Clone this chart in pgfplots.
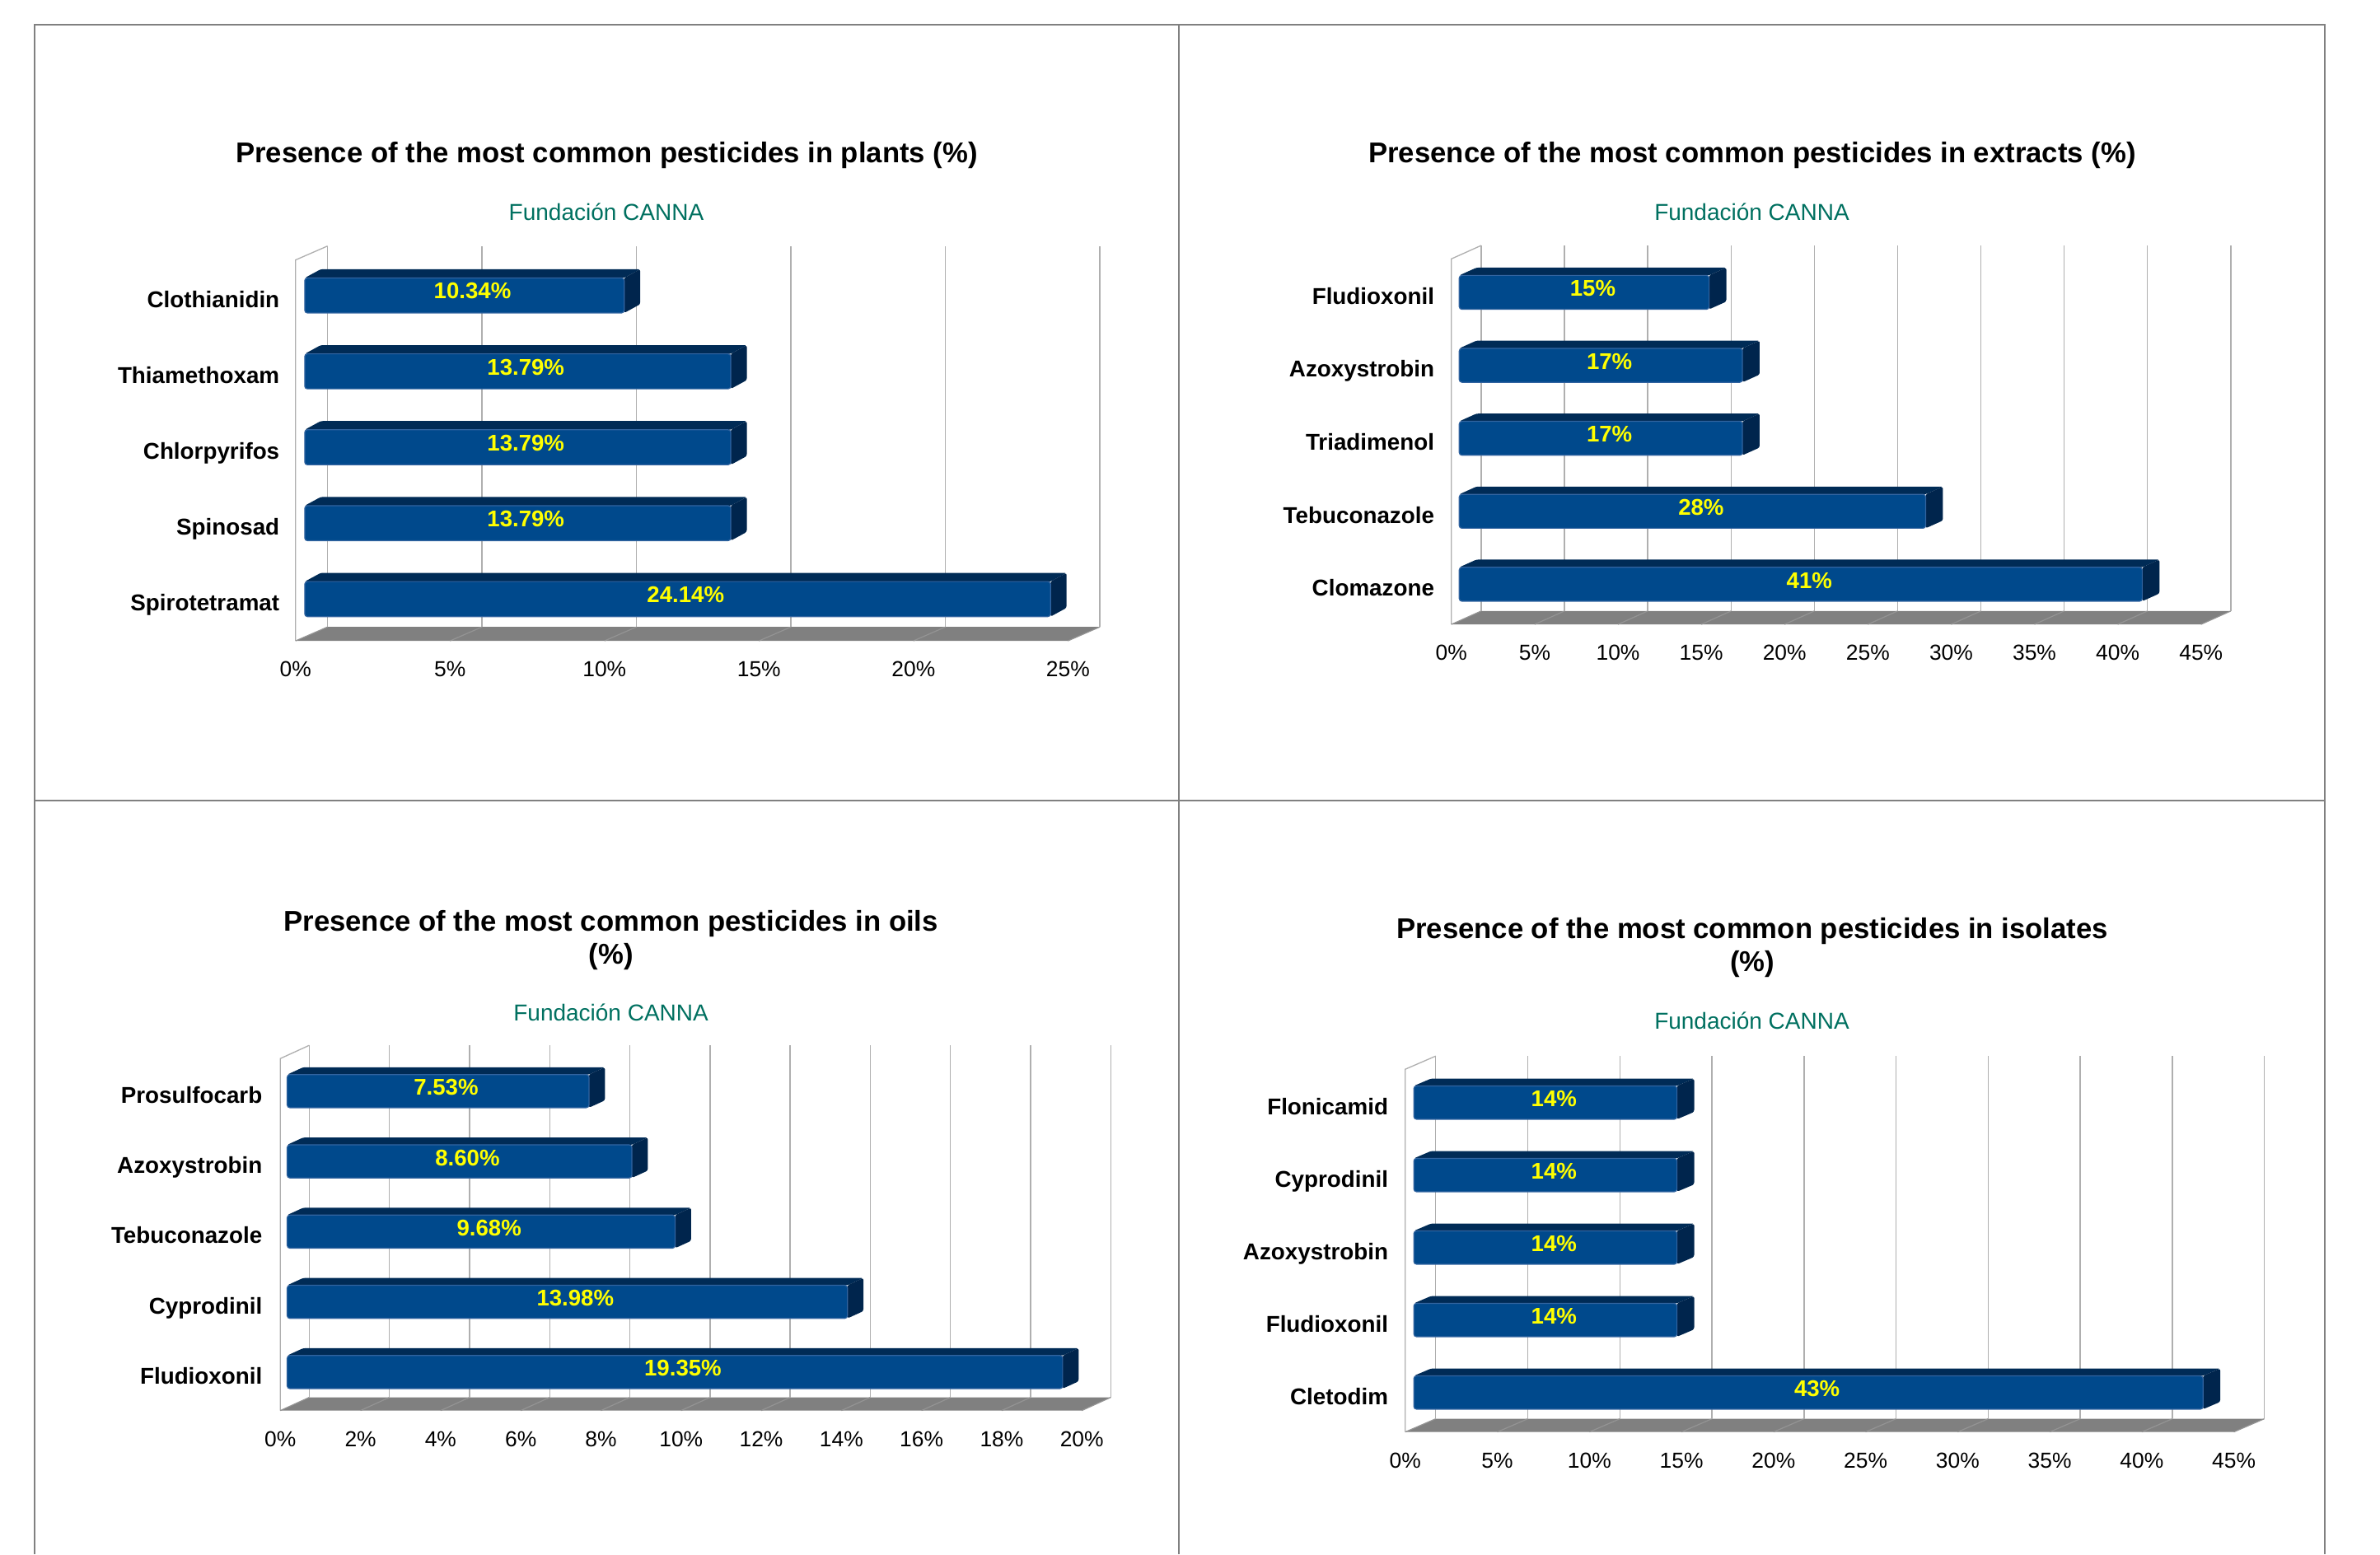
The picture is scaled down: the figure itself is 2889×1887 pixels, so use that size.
\documentclass[border=0pt]{standalone}
\usepackage{pgfplots}
\pgfplotsset{compat=1.18}
\usepackage{pgfplotstable}
\usepackage{fontspec}
\setmainfont{Liberation Sans}

\definecolor{barfront}{RGB}{0,73,140}
\definecolor{bartop}{RGB}{0,43,86}
\definecolor{barend}{RGB}{0,37,77}
\definecolor{barrim}{RGB}{50,100,160}
\definecolor{gridc}{RGB}{175,175,175}
\definecolor{floorc}{RGB}{128,128,128}
\definecolor{floorln}{RGB}{148,148,148}
\definecolor{cannateal}{RGB}{0,112,96}
\definecolor{framec}{RGB}{128,128,128}
\definecolor{labyellow}{RGB}{255,255,0}

\pgfplotstableread{
name v
Spirotetramat 24.14
Spinosad 13.79
Chlorpyrifos 13.79
Thiamethoxam 13.79
Clothianidin 10.34
}\plants

\pgfplotstableread{
name v
Clomazone 41
Tebuconazole 28
Triadimenol 17
Azoxystrobin 17
Fludioxonil 15
}\extracts

\pgfplotstableread{
name v
Fludioxonil 19.35
Cyprodinil 13.98
Tebuconazole 9.68
Azoxystrobin 8.60
Prosulfocarb 7.53
}\oils

\pgfplotstableread{
name v
Cletodim 42.86
Fludioxonil 14.29
Azoxystrobin 14.29
Cyprodinil 14.29
Flonicamid 14.29
}\isolates

\newcommand\titlefont{\fontsize{8.675pt}{10pt}\selectfont\bfseries}
\newcommand\subfont{\fontsize{7.0pt}{8pt}\selectfont}

% 3D bars from a table
\newcommand\drawbars[1]{%
  \pgfplotsinvokeforeach{0,...,4}{%
    \pgfplotstablegetelem{##1}{v}\of#1%
    \pgfmathsetmacro\xa{\bx}%
    \pgfmathsetmacro\xb{\bx+\pgfplotsretval}%
    \pgfmathsetmacro\xc{\xb+\dbx}%
    \pgfmathsetmacro\xd{\bx+\dbx}%
    \pgfmathsetmacro\yb{##1-\hh}%
    \pgfmathsetmacro\yt{##1+\hh}%
    \pgfmathsetmacro\ybb{##1-\hh+\dby}%
    \pgfmathsetmacro\ytt{##1+\hh+\dby}%
    \edef\tmp{%
      \noexpand\addplot[fill=bartop,draw=none,rounded corners=0.6pt] coordinates {(\xa,\yt) (\xb,\yt) (\xc,\ytt) (\xd,\ytt)} -- cycle;
      \noexpand\addplot[fill=barend,draw=none,rounded corners=0.6pt] coordinates {(\xb,\yb) (\xc,\ybb) (\xc,\ytt) (\xb,\yt)} -- cycle;
      \noexpand\addplot[fill=barfront,draw=barrim,line width=0.3pt,rounded corners=0.8pt] coordinates {(\xa,\yb) (\xb,\yb) (\xb,\yt) (\xa,\yt)} -- cycle;
    }\tmp
  }%
}

% floor, walls and grid
\newcommand\drawframe[1]{%
  \pgfmathsetmacro\ymnD{\ymn+\Dy}%
  \pgfmathsetmacro\ymxD{\ymx-\Dy}%
  \pgfmathsetmacro\xtD{\xt+\Dx}%
  \edef\tmp{\noexpand\fill[floorc] (axis cs:0,\ymn) -- (axis cs:\xt,\ymn) -- (axis cs:\xtD,\ymnD) -- (axis cs:\Dx,\ymnD) -- cycle;
    \noexpand\draw[color=gridc,line width=0.33pt] (axis cs:0,\ymn) -- (axis cs:0,\ymxD) -- (axis cs:\Dx,\ymx);}\tmp
  \pgfplotsinvokeforeach{#1}{%
    \pgfmathsetmacro\gx{##1+\Dx}%
    \edef\tmp{\noexpand\draw[color=floorln,line width=0.3pt] (axis cs:##1,\ymn) -- (axis cs:\gx,\ymnD);
      \noexpand\draw[color=gridc,line width=0.33pt] (axis cs:\gx,\ymnD) -- (axis cs:\gx,\ymx);}\tmp
  }%
}

\pgfplotsset{
  chart3d/.style={
    scale only axis, clip=false, anchor=south west,
    axis line style={draw=none}, tick style={draw=none}, major tick length=0pt,
    xmin=0, ytick={0,1,2,3,4},
    tick label style={inner sep=0pt},
    xticklabel style={font=\fontsize{6.6pt}{7pt}\selectfont, anchor=base, yshift=-10.95pt},
    yticklabel style={font=\fontsize{6.95pt}{8pt}\selectfont\bfseries, anchor=base east, yshift=-3.6pt},
    /pgf/number format/assume math mode=true,
  },
  barlabels/.style={
    draw=none, point meta=explicit,
    nodes near coords={\pgfmathprintnumber[fixed,fixed zerofill,precision=#1]{\pgfplotspointmeta}\%},
    nodes near coords align={center},
    every node near coord/.append style={font=\fontsize{6.9pt}{7pt}\selectfont\bfseries, text=labyellow, inner sep=0pt, anchor=center},
  },
}

\begin{document}
\begin{tikzpicture}[x=0.25pt,y=0.25pt]
\path[use as bounding box] (0,0) rectangle (2889,1887);

% panel frame
\draw[color=framec,line width=0.5pt] (41.6,0) -- (41.6,1857) -- (2821.6,1857) -- (2821.6,0);
\draw[color=framec,line width=0.5pt] (1431.3,0) -- (1431.3,1857);
\draw[color=framec,line width=0.5pt] (41.6,915.1) -- (2821.6,915.1);

% titles
\node[anchor=base,inner sep=0pt,font=\titlefont] at (736.5,1689) {Presence of the most common pesticides in plants (\%)};
\node[anchor=base,inner sep=0pt,font=\subfont,text=cannateal] at (736,1619) {Fundación CANNA};
\node[anchor=base,inner sep=0pt,font=\titlefont] at (2127,1689) {Presence of the most common pesticides in extracts (\%)};
\node[anchor=base,inner sep=0pt,font=\subfont,text=cannateal] at (2126.5,1619.4) {Fundación CANNA};
\node[anchor=base,inner sep=0pt,font=\titlefont] at (741.6,756.2) {Presence of the most common pesticides in oils};
\node[anchor=base,inner sep=0pt,font=\titlefont] at (741.6,716.6) {(\%)};
\node[anchor=base,inner sep=0pt,font=\subfont,text=cannateal] at (741.6,647.3) {Fundación CANNA};
\node[anchor=base,inner sep=0pt,font=\titlefont] at (2127,747.3) {Presence of the most common pesticides in isolates};
\node[anchor=base,inner sep=0pt,font=\titlefont] at (2127,707.7) {(\%)};
\node[anchor=base,inner sep=0pt,font=\subfont,text=cannateal] at (2126.5,637.9) {Fundación CANNA};

% ---------- plants
\def\bx{0.296}\def\hh{0.2306}\def\dbx{0.52}\def\dby{0.115}
\def\Dx{1.035}\def\Dy{0.1834}\def\ymn{-0.550}\def\ymx{4.651}\def\xt{25}
\begin{axis}[chart3d, at={(89.7pt,277.225pt)}, width=244.08pt, height=119.84pt,
  xmax=26.035, ymin=-0.550, ymax=4.651,
  xtick={0,5,...,25}, xticklabels={0\%,5\%,10\%,15\%,20\%,25\%},
  yticklabels from table={\plants}{name}, yticklabel style={xshift=-4.7pt}]
  \drawframe{0,5,...,25}
  \drawbars{\plants}
  \addplot[barlabels=2] table[x expr=\thisrow{v}/2+0.556, y expr=\coordindex+0.0575, meta=v] {\plants};
\end{axis}

% ---------- extracts
\def\bx{0.47}\def\hh{0.2325}\def\dbx{1.034}\def\dby{0.106}
\def\Dx{1.785}\def\Dy{0.183}\def\ymn{-0.5497}\def\ymx{4.642}\def\xt{45}
\begin{axis}[chart3d, at={(440.45pt,282.225pt)}, width=236.5pt, height=115pt,
  xmax=46.785, ymin=-0.5497, ymax=4.642,
  xtick={0,5,...,45}, xticklabels={0\%,5\%,10\%,15\%,20\%,25\%,30\%,35\%,40\%,45\%},
  yticklabels from table={\extracts}{name}, yticklabel style={xshift=-5pt}]
  \drawframe{0,5,...,45}
  \drawbars{\extracts}
  \addplot[barlabels=0] table[x expr=\thisrow{v}/2+0.987, y expr=\coordindex+0.053, meta=v] {\extracts};
\end{axis}

% ---------- oils
\def\bx{0.1706}\def\hh{0.2357}\def\dbx{0.399}\def\dby{0.104}
\def\Dx{0.7215}\def\Dy{0.1876}\def\ymn{-0.5477}\def\ymx{4.652}\def\xt{20}
\begin{axis}[chart3d, at={(85.075pt,43.6pt)}, width=252.0pt, height=110.85pt,
  xmax=20.7215, ymin=-0.5477, ymax=4.652,
  xtick={0,2,...,20}, xticklabels={0\%,2\%,4\%,6\%,8\%,10\%,12\%,14\%,16\%,18\%,20\%},
  yticklabels from table={\oils}{name}, yticklabel style={xshift=-5.3pt}]
  \drawframe{0,2,...,20}
  \drawbars{\oils}
  \addplot[barlabels=2] table[x expr=\thisrow{v}/2+0.370, y expr=\coordindex+0.052, meta=v] {\oils};
\end{axis}

% ---------- isolates
\def\bx{0.465}\def\hh{0.23}\def\dbx{0.935}\def\dby{0.101}
\def\Dx{1.655}\def\Dy{0.1818}\def\ymn{-0.544}\def\ymx{4.6416}\def\xt{45}
\begin{axis}[chart3d, at={(426.45pt,37.1pt)}, width=260.7pt, height=114.1pt,
  xmax=46.655, ymin=-0.544, ymax=4.6416,
  xtick={0,5,...,45}, xticklabels={0\%,5\%,10\%,15\%,20\%,25\%,30\%,35\%,40\%,45\%},
  yticklabels from table={\isolates}{name}, yticklabel style={xshift=-5pt}]
  \drawframe{0,5,...,45}
  \drawbars{\isolates}
  \addplot[barlabels=0] table[x expr=\thisrow{v}/2+0.9325, y expr=\coordindex+0.0505, meta=v] {\isolates};
\end{axis}
\end{tikzpicture}
\end{document}
